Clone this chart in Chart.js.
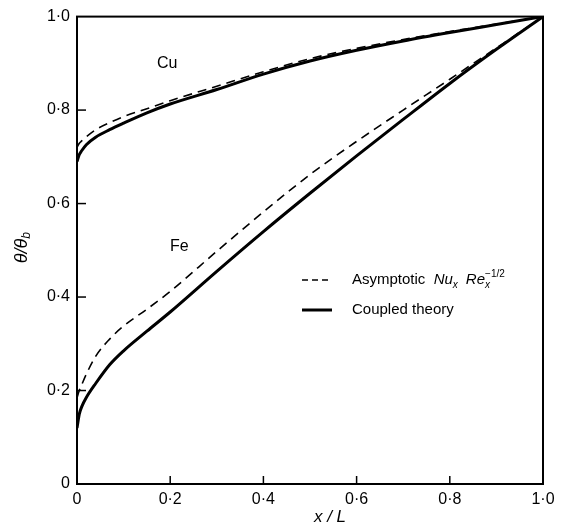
<!DOCTYPE html>
<html>
<head>
<meta charset="utf-8">
<script src="https://cdn.jsdelivr.net/npm/chart.js@4"></script>
<style>
  html, body { margin: 0; padding: 0; background: #fff; }
  #wrap { width: 565px; height: 528px; position: relative; }
</style>
</head>
<body>
<div id="wrap"><canvas id="chart" width="565" height="528"></canvas></div>
<script>
// values (x/L against theta/theta_b)
const xPos = [0, 0.005, 0.01, 0.02, 0.04, 0.07, 0.1, 0.15, 0.2, 0.3, 0.4, 0.5, 0.6, 0.7, 0.8, 0.9, 1.0];
const cuCoupled = [0.69, 0.705, 0.713, 0.726, 0.742, 0.758, 0.772, 0.794, 0.813, 0.844, 0.877, 0.905, 0.928, 0.948, 0.966, 0.983, 1.0];
const cuAsymptotic = [0.72, 0.729, 0.734, 0.743, 0.758, 0.773, 0.786, 0.803, 0.82, 0.851, 0.882, 0.91, 0.932, 0.951, 0.968, 0.984, 1.0];
const feCoupled = [0.12, 0.15, 0.165, 0.185, 0.215, 0.255, 0.285, 0.327, 0.368, 0.455, 0.54, 0.622, 0.702, 0.78, 0.857, 0.93, 1.0];
const feAsymptotic = [0.185, 0.2, 0.212, 0.235, 0.273, 0.31, 0.338, 0.374, 0.412, 0.498, 0.582, 0.662, 0.733, 0.8, 0.866, 0.933, 1.0];
const tickValues = [0, 0.2, 0.4, 0.6, 0.8, 1.0];

const FONT = '"Liberation Sans", Arial, sans-serif';

function toPoints(ys) {
    return xPos.map((x, i) => ({ x: x, y: ys[i] }));
}

function fmt(v) {
    if (v === 0) return '0';
    return v.toFixed(1).replace('.', '·');
}

function lineSet(ys, dashed) {
    return {
        data: toPoints(ys),
        borderColor: '#000',
        borderWidth: dashed ? 1.6 : 3,
        borderDash: dashed ? [9, 6] : [],
        pointRadius: 0,
        cubicInterpolationMode: 'monotone',
        fill: false
    };
}

// frame, inward ticks, labels and legend
const decor = {
    id: 'decor',
    afterDraw(chart) {
        const ctx = chart.ctx;
        const a = chart.chartArea;
        const xs = chart.scales.x, ys = chart.scales.y;
        ctx.save();
        ctx.strokeStyle = '#000';
        ctx.lineWidth = 2;
        ctx.strokeRect(a.left, a.top, a.right - a.left, a.bottom - a.top);

        ctx.lineWidth = 1.5;
        tickValues.forEach(v => {
            if (v > 0 && v < 1) {
                const px = xs.getPixelForValue(v);
                ctx.beginPath(); ctx.moveTo(px, a.bottom); ctx.lineTo(px, a.bottom - 8); ctx.stroke();
                const py = ys.getPixelForValue(v);
                ctx.beginPath(); ctx.moveTo(a.left, py); ctx.lineTo(a.left + 9, py); ctx.stroke();
            }
        });

        ctx.fillStyle = '#000';
        ctx.textBaseline = 'middle';
        ctx.textAlign = 'left';
        ctx.font = '16px ' + FONT;
        ctx.fillText('Cu', 157, 64);
        ctx.fillText('Fe', 170, 247);

        // legend
        const r1 = 280, r2 = 310;
        ctx.lineWidth = 1.6;
        ctx.setLineDash([6, 4]);
        ctx.beginPath(); ctx.moveTo(302, r1); ctx.lineTo(332, r1); ctx.stroke();
        ctx.setLineDash([]);
        ctx.lineWidth = 3;
        ctx.beginPath(); ctx.moveTo(302, r2); ctx.lineTo(332, r2); ctx.stroke();

        let x = 352;
        ctx.font = '15px ' + FONT;
        ctx.fillText('Asymptotic ', x, r1);
        x += ctx.measureText('Asymptotic  ').width;
        ctx.font = 'italic 15px ' + FONT;
        ctx.fillText('Nu', x, r1);
        x += ctx.measureText('Nu').width;
        ctx.font = 'italic 10px ' + FONT;
        ctx.fillText('x', x, r1 + 5);
        x += ctx.measureText('x').width + 8;
        ctx.font = 'italic 15px ' + FONT;
        ctx.fillText('Re', x, r1);
        x += ctx.measureText('Re').width;
        ctx.font = 'italic 10px ' + FONT;
        ctx.fillText('x', x, r1 + 5);
        ctx.font = '10px ' + FONT;
        ctx.fillText('−1/2', x, r1 - 6);

        ctx.font = '15px ' + FONT;
        ctx.fillText('Coupled theory', 352, r2);

        // axis titles
        ctx.font = 'italic 17px ' + FONT;
        ctx.textAlign = 'center';
        ctx.fillText('x / L', 330, 517);

        ctx.translate(22, 248);
        ctx.rotate(-Math.PI / 2);
        ctx.textAlign = 'left';
        ctx.font = 'italic 18px ' + FONT;
        const w = ctx.measureText('θ/θ').width;
        ctx.fillText('θ/θ', -(w + 6) / 2, 0);
        ctx.font = 'italic 12px ' + FONT;
        ctx.fillText('b', -(w + 6) / 2 + w, 5);
        ctx.restore();
    }
};

new Chart(document.getElementById('chart'), {
    type: 'line',
    data: {
        datasets: [
            lineSet(cuAsymptotic, true),
            lineSet(cuCoupled, false),
            lineSet(feAsymptotic, true),
            lineSet(feCoupled, false)
        ]
    },
    options: {
        responsive: false,
        animation: false,
        layout: { padding: { top: 11, right: 22, left: 0, bottom: 0 } },
        plugins: { legend: { display: false }, tooltip: { enabled: false } },
        scales: {
            x: {
                type: 'linear', min: 0, max: 1,
                afterFit(s) { s.height = 44; },
                afterBuildTicks(s) { s.ticks = tickValues.map(v => ({ value: v })); },
                grid: { display: false, drawTicks: false },
                border: { display: false },
                ticks: { color: '#000', padding: 6, maxRotation: 0, font: { family: FONT, size: 16 }, callback: fmt }
            },
            y: {
                type: 'linear', min: 0, max: 1,
                afterFit(s) { s.width = 77; },
                afterBuildTicks(s) { s.ticks = tickValues.map(v => ({ value: v })); },
                grid: { display: false, drawTicks: false },
                border: { display: false },
                ticks: { color: '#000', padding: 7, font: { family: FONT, size: 16 }, callback: fmt }
            }
        }
    },
    plugins: [decor]
});
</script>
</body>
</html>
